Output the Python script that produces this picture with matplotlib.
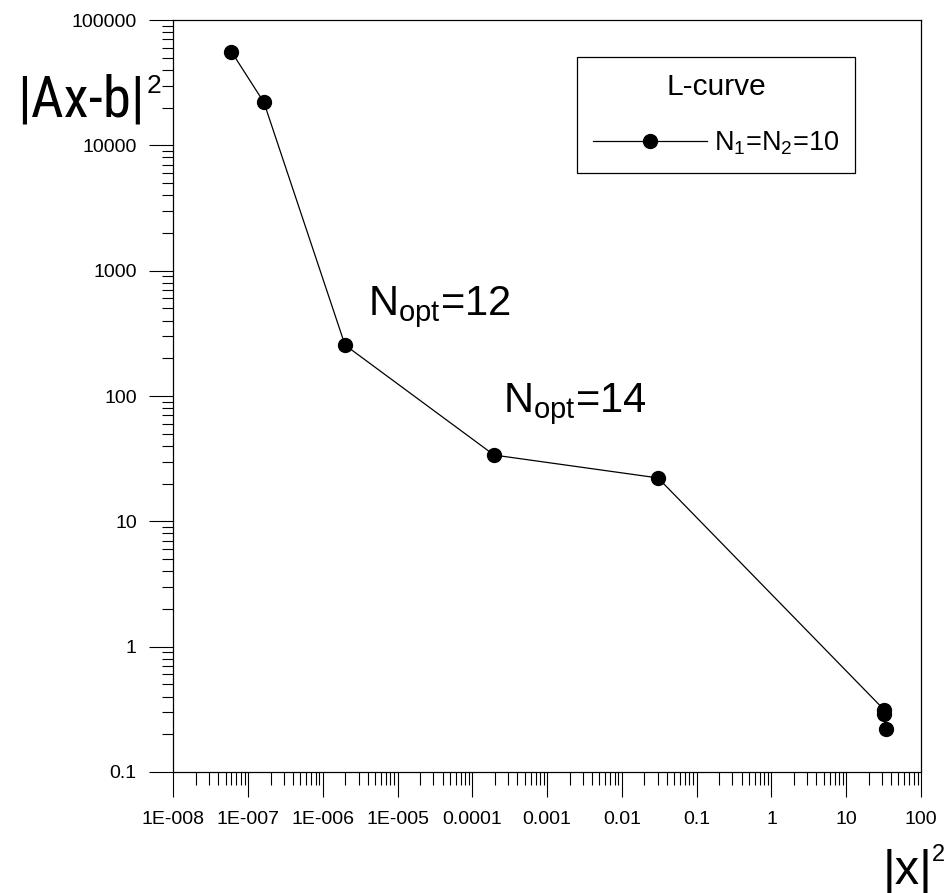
import matplotlib
matplotlib.use("Agg")
import matplotlib.pyplot as plt
from matplotlib import font_manager
from matplotlib.ticker import LogLocator, NullFormatter

plt.rcParams['font.family'] = ['Liberation Sans', 'DejaVu Sans']
plt.rcParams['mathtext.fontset'] = 'custom'
plt.rcParams['mathtext.rm'] = 'Liberation Sans'
plt.rcParams['mathtext.it'] = 'Liberation Sans:italic'

# L-curve points: |x|^2 vs |Ax-b|^2
x_norm = [6.0e-8, 1.63e-7, 1.98e-6, 1.95e-4, 0.0304, 31.9, 32.2, 33.6]
residual = [55800, 22000, 255, 33.8, 22.2, 0.315, 0.290, 0.220]
series_label = r'N$_1$=N$_2$=10'

x_ticks = [1e-8, 1e-7, 1e-6, 1e-5, 1e-4, 1e-3, 1e-2, 1e-1, 1, 10, 100]
x_tick_labels = ['1E-008', '1E-007', '1E-006', '1E-005', '0.0001', '0.001',
                 '0.01', '0.1', '1', '10', '100']
y_ticks = [0.1, 1, 10, 100, 1000, 10000, 100000]
y_tick_labels = ['0.1', '1', '10', '100', '1000', '10000', '100000']

W, H = 944, 893
fig = plt.figure(figsize=(W / 100, H / 100), dpi=100)
ax = fig.add_axes([173.3 / W, 1 - 772 / H, (921 - 173.3) / W, (772 - 20) / H])

ax.plot(x_norm, residual, color='black', lw=0.9, marker='o', ms=10,
        mfc='black', mec='black', label=series_label)

ax.set_xscale('log')
ax.set_yscale('log')
ax.set_xlim(1e-8, 100)
ax.set_ylim(0.1, 100000)

ax.set_xticks(x_ticks)
ax.set_xticklabels(x_tick_labels)
ax.set_yticks(y_ticks)
ax.set_yticklabels(y_tick_labels)
ax.xaxis.set_minor_locator(LogLocator(base=10, subs=range(2, 10), numticks=20))
ax.yaxis.set_minor_locator(LogLocator(base=10, subs=range(2, 10), numticks=20))
ax.xaxis.set_minor_formatter(NullFormatter())
ax.yaxis.set_minor_formatter(NullFormatter())

ax.tick_params(which='both', direction='out', top=False, right=False,
               color='black', width=0.8, labelsize=14)
ax.tick_params(axis='x', which='major', length=18, pad=10)
ax.tick_params(axis='x', which='minor', length=9.4)
ax.tick_params(axis='y', which='major', length=17.3, pad=9)
ax.tick_params(axis='y', which='minor', length=8)
for s in ax.spines.values():
    s.set_linewidth(0.9)
    s.set_color('black')

# annotations
ax.text(4.0e-6, 443, r'N$_{\mathrm{opt}}$=12', fontsize=30, va='baseline')
ax.text(2.56e-4, 74.5, r'N$_{\mathrm{opt}}$=14', fontsize=30, va='baseline')

leg = ax.legend(loc='upper left', bbox_to_anchor=(577 / W, 1 - 57 / H),
                bbox_transform=fig.transFigure, borderaxespad=0,
                title='L-curve', title_fontsize=21.5, fontsize=19.5,
                handlelength=4.2, handletextpad=0.25, borderpad=0.6,
                labelspacing=1.05, numpoints=1, fancybox=False,
                framealpha=1, edgecolor='black')
leg.get_frame().set_linewidth(0.9)


def first_font(candidates):
    for name in candidates:
        try:
            return font_manager.findfont(font_manager.FontProperties(family=name),
                                         fallback_to_default=False)
        except ValueError:
            pass
    return None


# the y label in the reference is tall and narrow: use a condensed face,
# then fit it into the space left of the axis
narrow = first_font(['Roboto Condensed', 'Archivo Narrow', 'PT Sans Narrow'])
if narrow:
    yl_props = font_manager.FontProperties(fname=narrow, size=50)
else:
    yl_props = font_manager.FontProperties(family='Liberation Sans', size=50)

ylab = fig.text(17 / W, 1 - 117 / H, '|Ax-b|', fontproperties=yl_props,
                ha='left', va='baseline')
renderer = fig.canvas.get_renderer()
w = ylab.get_window_extent(renderer=renderer).width
if w > 128:
    ylab.set_fontsize(50 * 128 / w)
fig.text(147 / W, 1 - 93 / H, '2', fontsize=19, ha='left', va='baseline')

fig.text(883 / W, 1 - 884 / H, '|x|', fontsize=35, ha='left', va='baseline')
fig.text(932 / W, 1 - 861 / H, '2', fontsize=17, ha='left', va='baseline')

fig.savefig('out.png', dpi=100)
